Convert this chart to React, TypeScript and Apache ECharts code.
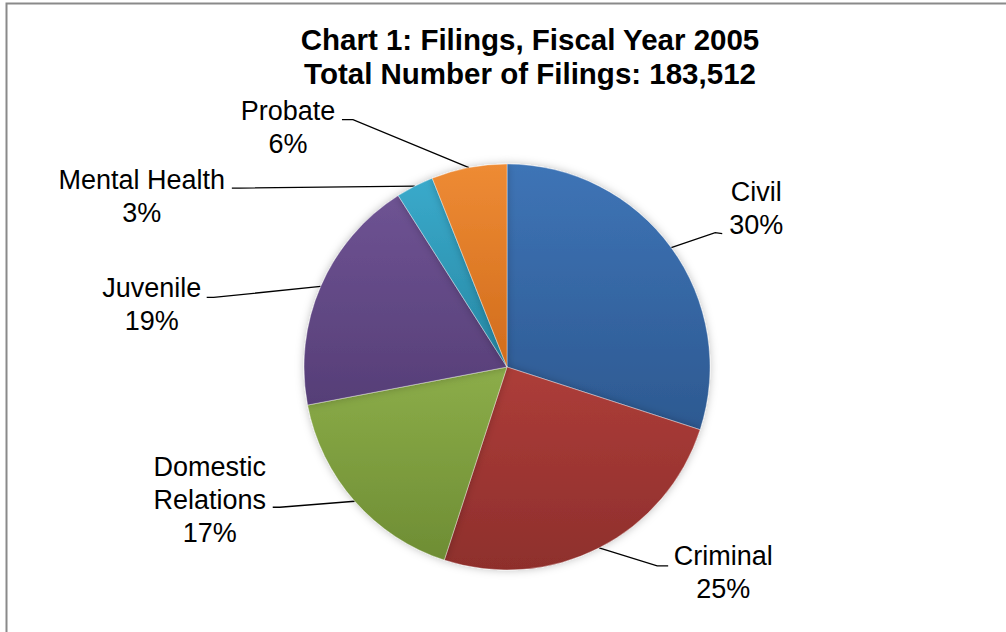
import React, { useEffect, useRef } from "react";
import * as echarts from "echarts";

const categories = ["Civil", "Criminal", "Domestic Relations", "Juvenile", "Mental Health", "Probate"];
const labelNames = ["Civil", "Criminal", "Domestic\nRelations", "Juvenile", "Mental Health", "Probate"];
const percentValues = [30, 25, 17, 19, 3, 6];
const titleText = "Chart 1: Filings, Fiscal Year 2005\nTotal Number of Filings: 183,512";

const sliceColors: [string, string][] = [
  ["#3E74B6", "#2D5991"],
  ["#AD3D39", "#8E2F2C"],
  ["#8CAD49", "#6E8D34"],
  ["#6E5393", "#563E77"],
  ["#3AAACB", "#2687A3"],
  ["#EE8B34", "#D16C1C"],
];

// connector geometry relative to the slice's edge point (layout only)
const labelOffsets = [
  { elbow: [44, -15], end: [51, -14], text: [85, -39] },
  { elbow: [58, 18], end: [69, 18], text: [124, 25] },
  { elbow: [-75, 6], end: [-82, 6], text: [-145, -1] },
  { elbow: [-107, 11], end: [-114, 11], text: [-169, 18] },
  { elbow: [-175, 2], end: [-183, 2], text: [-273, 10] },
  { elbow: [-116, -48], end: [-127, -48], text: [-181, -40] },
];

export default function App() {
  const ref = useRef<HTMLDivElement>(null);
  useEffect(() => {
    if (!ref.current) return;
    const chart = echarts.init(ref.current, null, { renderer: "svg" });
    const font = "'Liberation Sans', Arial, sans-serif";
    chart.setOption({
      animation: false,
      backgroundColor: "#ffffff",
      title: {
        text: titleText,
        left: 525,
        top: 17,
        textAlign: "center",
        textStyle: {
          fontFamily: font,
          fontSize: 29.5,
          fontWeight: "bold",
          color: "#000000",
          lineHeight: 34,
        },
      },
      graphic: [
        {
          type: "rect",
          shape: { x: 6.5, y: 3.5, width: 1100, height: 700 },
          style: { fill: "none", stroke: "#8a8a8a", lineWidth: 2 },
          silent: true,
        },
      ],
      series: [
        {
          type: "pie",
          center: [507, 367],
          radius: 203,
          startAngle: 90,
          clockwise: true,
          avoidLabelOverlap: false,
          itemStyle: {
            borderColor: "rgba(255,255,255,0.35)",
            borderWidth: 1,
            shadowBlur: 8,
            shadowColor: "rgba(0,0,0,0.25)",
          },
          label: {
            show: true,
            position: "outside",
            fontFamily: font,
            fontSize: 27,
            lineHeight: 33,
            color: "#000000",
            align: "center",
            formatter: (p: any) => labelNames[p.dataIndex] + "\n" + Math.round(p.percent) + "%",
          },
          labelLine: {
            show: true,
            length: 30,
            length2: 10,
            lineStyle: { color: "#000000", width: 1.3 },
          },
          labelLayout: (params: any) => {
            const o = labelOffsets[params.dataIndex];
            const p0 = params.labelLinePoints ? params.labelLinePoints[0] : [0, 0];
            return {
              x: p0[0] + o.text[0],
              y: p0[1] + o.text[1],
              align: "center",
              verticalAlign: "middle",
              labelLinePoints: [
                [p0[0], p0[1]],
                [p0[0] + o.elbow[0], p0[1] + o.elbow[1]],
                [p0[0] + o.end[0], p0[1] + o.end[1]],
              ],
            };
          },
          data: categories.map((name, i) => ({
            name,
            value: percentValues[i],
            itemStyle: {
              color: new echarts.graphic.LinearGradient(0, 0, 0, 1, [
                { offset: 0, color: sliceColors[i][0] },
                { offset: 1, color: sliceColors[i][1] },
              ]),
            },
          })),
        },
      ],
    });
    return () => chart.dispose();
  }, []);
  return (
    <div
      ref={ref}
      style={{ position: "absolute", left: 0, top: 0, width: 1006, height: 632, background: "#fff" }}
    />
  );
}
